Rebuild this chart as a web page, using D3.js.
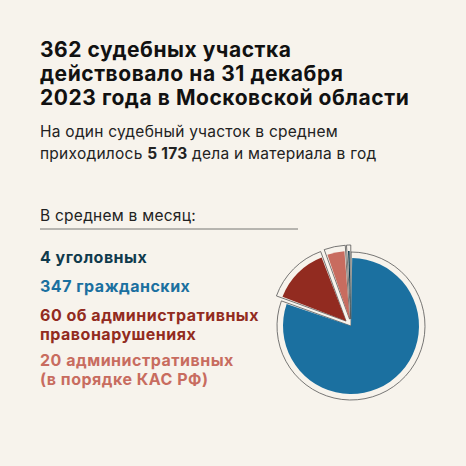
<!DOCTYPE html>
<html><head><meta charset="utf-8">
<script src="https://cdn.jsdelivr.net/npm/d3@7"></script>
<style>body{margin:0;background:#f7f3ec}</style>
</head><body>
<script>
// data
var categories = ["347 гражданских", "60 об административных правонарушениях", "20 административных (в порядке КАС РФ)", "4 уголовных"];
var values = [347, 60, 20, 4];
var colors = ["#1b70a0", "#922b20", "#c86c5f", "#0f3a4c"];
var exploded = [0, 7, 7, 7];

var width = 466, height = 466;
var svg = d3.select("body").append("svg")
    .attr("width", width).attr("height", height)
    .style("font-family", "Inter, 'Open Sans', sans-serif");
svg.append("rect").attr("width", width).attr("height", height).attr("fill", "#f7f3ec");

//title
var title = ["362 судебных участка", "действовало на 31 декабря", "2023 года в Московской области"];
svg.selectAll(".t").data(title).enter().append("text")
    .attr("x", 40).attr("y", function(d, i){ return 57 + i * 24; })
    .attr("font-size", 21).attr("font-weight", 700).attr("fill", "#111")
    .attr("letter-spacing", 0.55)
    .text(function(d){ return d; });

var sub = svg.append("text").attr("x", 40).attr("y", 137).attr("font-size", 15.5).attr("fill", "#222").attr("letter-spacing", 0.25);
sub.text("На один судебный участок в среднем");
var sub2 = svg.append("text").attr("x", 40).attr("y", 159).attr("font-size", 15.5).attr("fill", "#222").attr("letter-spacing", 0.25);
sub2.append("tspan").text("приходилось ");
sub2.append("tspan").attr("font-weight", 700).text("5 173");
sub2.append("tspan").text(" дела и материала в год");

svg.append("text").attr("x", 40).attr("y", 221).attr("font-size", 15.5).attr("fill", "#222").attr("letter-spacing", 0.25).text("В среднем в месяц:");
svg.append("line").attr("x1", 40).attr("x2", 298).attr("y1", 229).attr("y2", 229).attr("stroke", "#555").attr("stroke-width", 0.8);

//legend labels
var labels = [
    {lines: ["4 уголовных"], c: 3, y: 263},
    {lines: ["347 гражданских"], c: 0, y: 292},
    {lines: ["60 об административных", "правонарушениях"], c: 1, y: 321},
    {lines: ["20 административных", "(в порядке КАС РФ)"], c: 2, y: 366}
];
labels.forEach(function(l){
    l.lines.forEach(function(s, i){
        svg.append("text").attr("x", 40).attr("y", l.y + i * 19)
            .attr("font-size", 16).attr("font-weight", 700).attr("letter-spacing", 0.5)
            .attr("fill", colors[l.c]).text(s);
    });
});

//pie
var cx = 351, cy = 326, r = 68;
var pie = d3.pie().sort(null).value(function(d){ return d; })(values);
var arcIn = d3.arc().innerRadius(0).outerRadius(r).padAngle(0.035);
var arcOut = d3.arc().innerRadius(0).outerRadius(r + 6);
var g = svg.append("g").attr("transform", "translate(" + cx + "," + cy + ")");
var slices = g.selectAll(".s").data(pie).enter().append("g")
    .attr("transform", function(d, i){
        var a = (d.startAngle + d.endAngle) / 2;
        return "translate(" + (Math.sin(a) * exploded[i]) + "," + (-Math.cos(a) * exploded[i]) + ")";
    });
slices.append("path").attr("d", arcOut).attr("fill", "#f7f3ec").attr("stroke", "#555").attr("stroke-width", 0.8);
slices.append("path").attr("d", arcIn).attr("fill", function(d, i){ return colors[i]; });
</script>
</body></html>
